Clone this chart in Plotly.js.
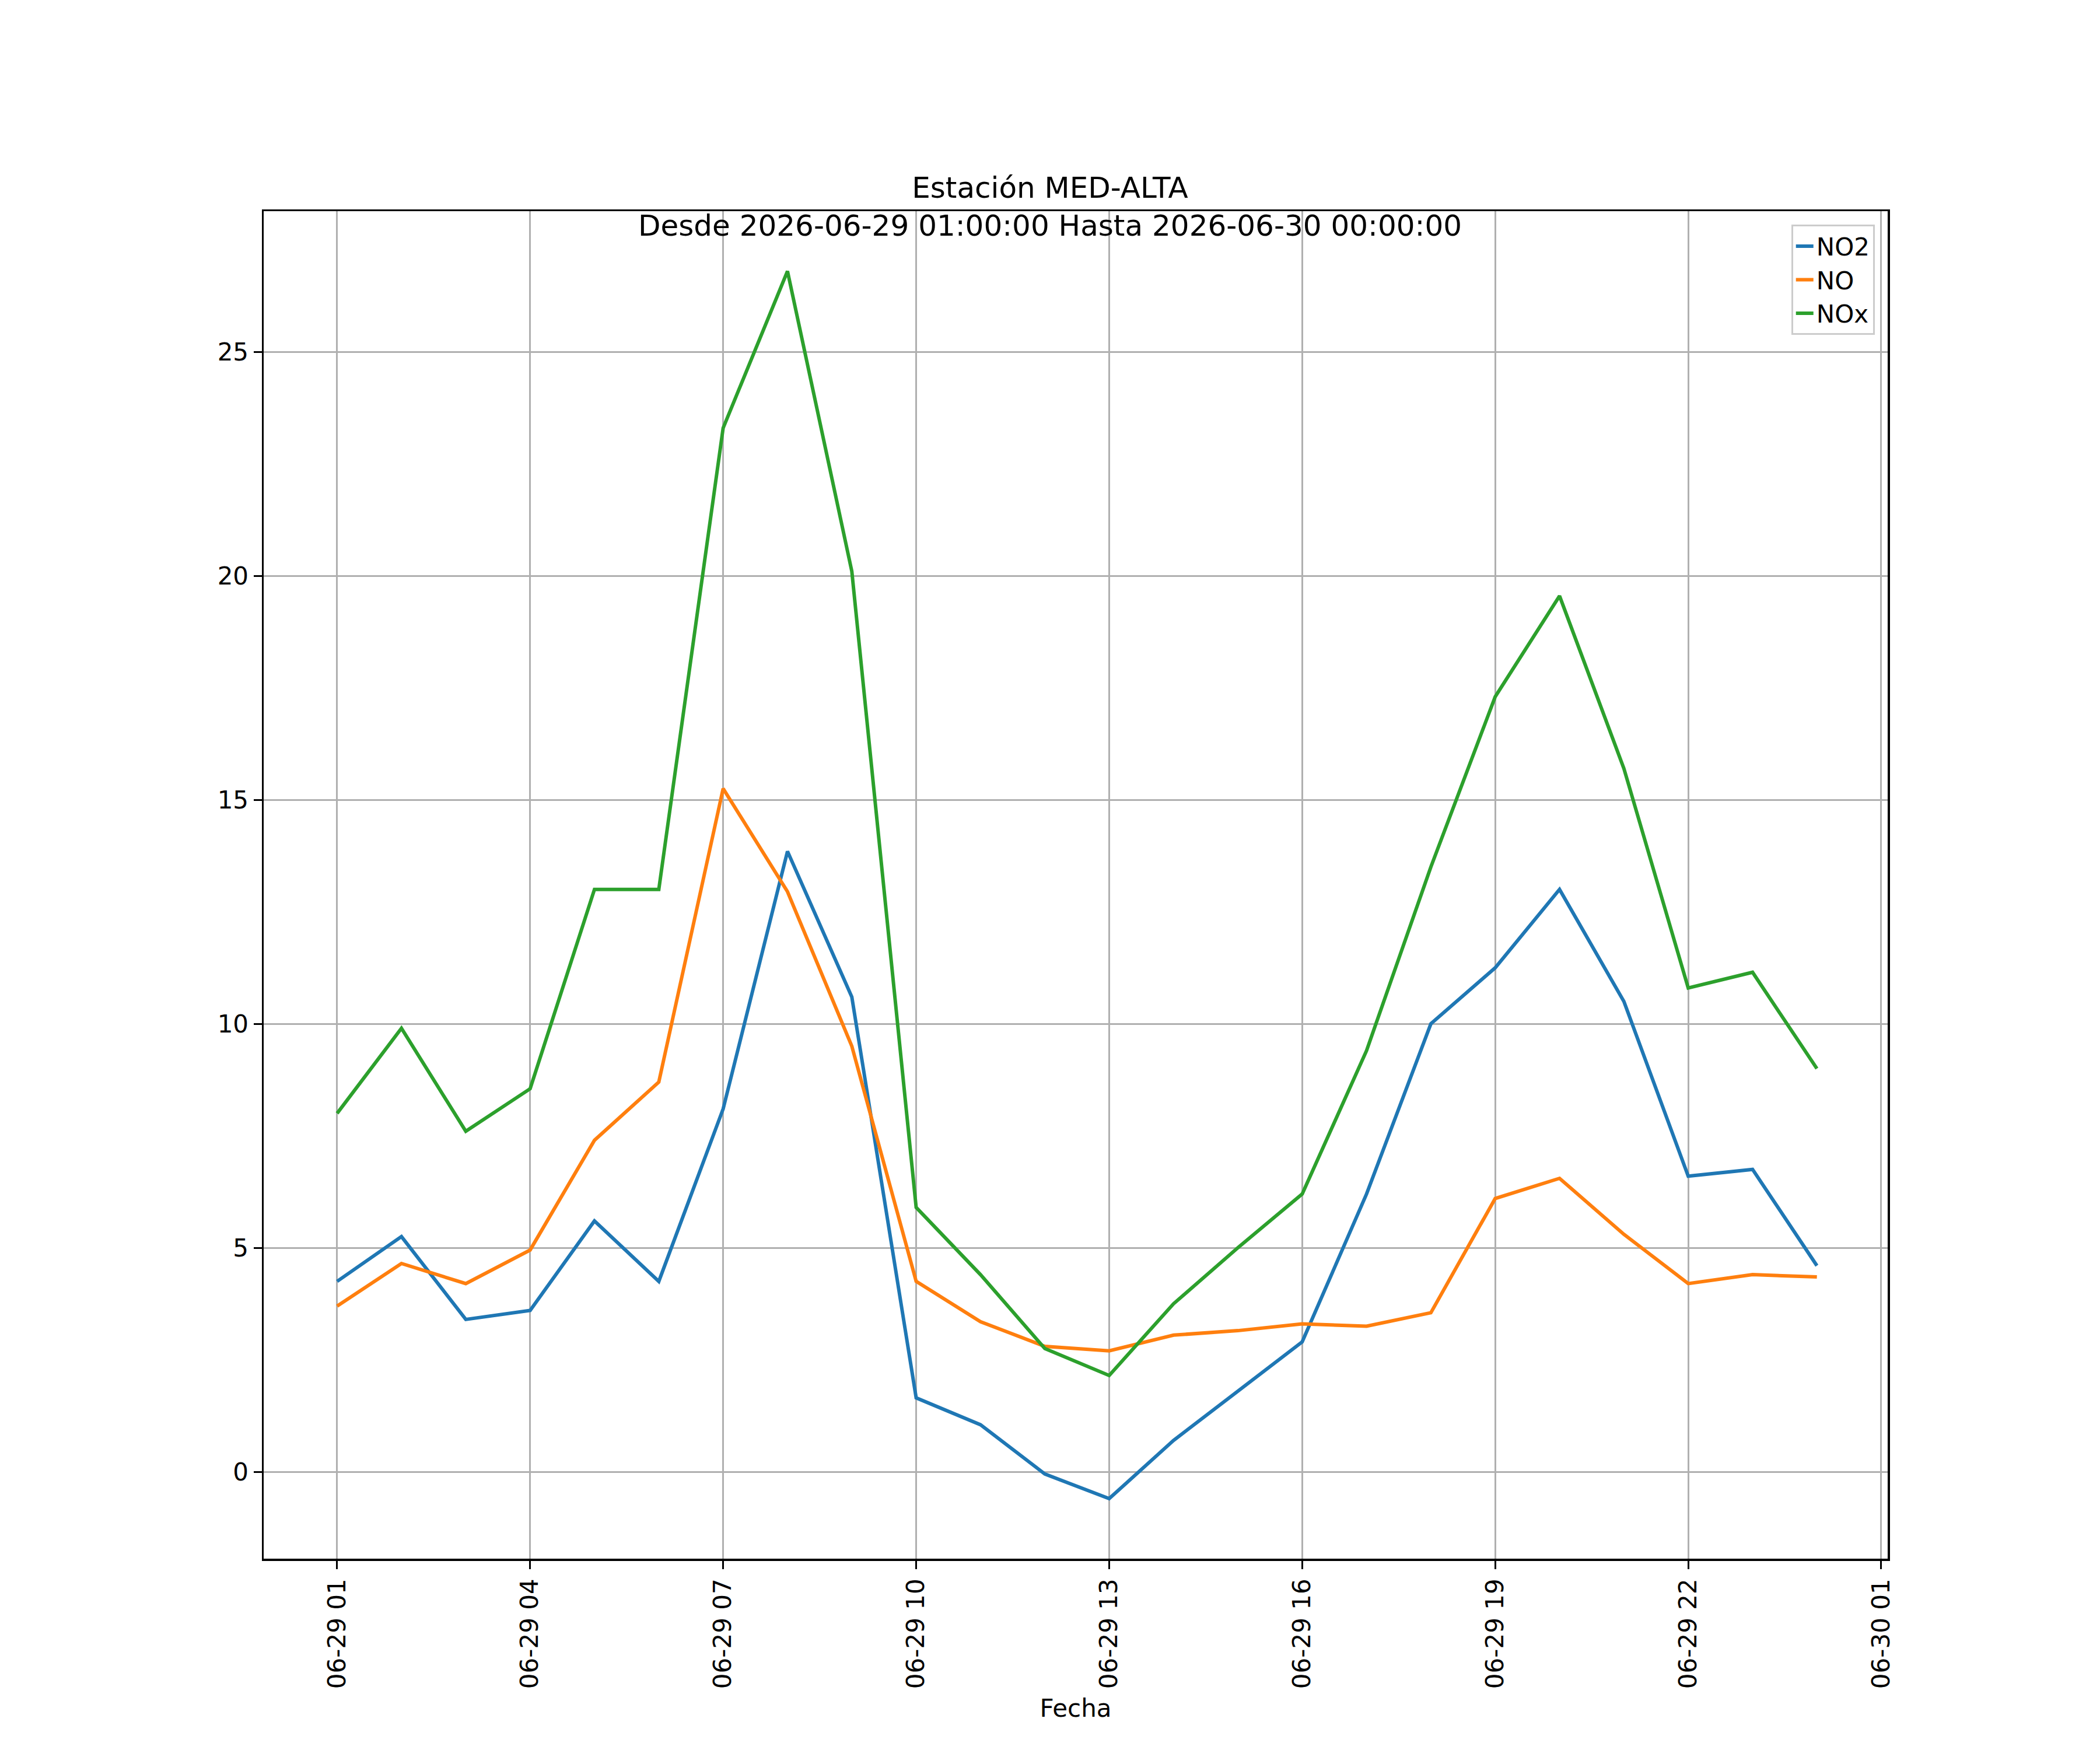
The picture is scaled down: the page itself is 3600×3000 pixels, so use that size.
<!DOCTYPE html>
<html>
<head>
<meta charset="utf-8">
<script src="https://cdn.plot.ly/plotly-3.0.1.min.js"></script>
<style>body{margin:0;background:#fff}</style>
</head>
<body>
<div id="plotlyChart" style="width:3600px;height:3000px"></div>
<script>
let hours = [
  '2026-06-29 01:00', '2026-06-29 02:00', '2026-06-29 03:00', '2026-06-29 04:00',
  '2026-06-29 05:00', '2026-06-29 06:00', '2026-06-29 07:00', '2026-06-29 08:00',
  '2026-06-29 09:00', '2026-06-29 10:00', '2026-06-29 11:00', '2026-06-29 12:00',
  '2026-06-29 13:00', '2026-06-29 14:00', '2026-06-29 15:00', '2026-06-29 16:00',
  '2026-06-29 17:00', '2026-06-29 18:00', '2026-06-29 19:00', '2026-06-29 20:00',
  '2026-06-29 21:00', '2026-06-29 22:00', '2026-06-29 23:00', '2026-06-30 00:00',
];
let no2 = [4.25, 5.25, 3.4, 3.6, 5.6, 4.25, 8.1, 13.85, 10.6, 1.65, 1.05, -0.05,
  -0.6, 0.7, 1.8, 2.9, 6.2, 10.0, 11.25, 13.0, 10.5, 6.6, 6.75, 4.6];
let no = [3.7, 4.65, 4.2, 4.95, 7.4, 8.7, 15.25, 12.95, 9.5, 4.25, 3.35, 2.8,
  2.7, 3.05, 3.15, 3.3, 3.25, 3.55, 6.1, 6.55, 5.3, 4.2, 4.4, 4.35];
let nox = [8.0, 9.9, 7.6, 8.55, 13.0, 13.0, 23.3, 26.8, 20.1, 5.9, 4.4, 2.75,
  2.15, 3.75, 5.0, 6.2, 9.4, 13.5, 17.3, 19.55, 15.7, 10.8, 11.15, 9.0];
let tick_vals = ['2026-06-29 01:00', '2026-06-29 04:00', '2026-06-29 07:00', '2026-06-29 10:00',
  '2026-06-29 13:00', '2026-06-29 16:00', '2026-06-29 19:00', '2026-06-29 22:00', '2026-06-30 01:00'];
let tick_text = ['06-29 01', '06-29 04', '06-29 07', '06-29 10', '06-29 13',
  '06-29 16', '06-29 19', '06-29 22', '06-30 01'];

let line_colors = ['#1f77b4', '#ff7f0e', '#2ca02c'];
let series = [['NO2', no2], ['NO', no], ['NOx', nox]];
let data = series.map((s, i) => ({
  x: hours,
  y: s[1],
  type: 'scatter',
  mode: 'lines',
  name: s[0],
  line: { color: line_colors[i], width: 6 },
}));

let axis = {
  showline: true,
  mirror: true,
  linecolor: '#000',
  linewidth: 3.5,
  showgrid: true,
  gridcolor: '#b0b0b0',
  gridwidth: 3,
  ticks: 'outside',
  ticklen: 14,
  tickwidth: 3,
  tickcolor: '#000',
  zeroline: false,
  tickfont: { size: 42, color: '#000' },
};

Plotly.newPlot('plotlyChart', data, {
  width: 3600,
  height: 3000,
  paper_bgcolor: '#fff',
  plot_bgcolor: '#fff',
  font: { family: 'DejaVu Sans', color: '#000' },
  margin: { l: 452, r: 364, t: 362, b: 328 },
  title: {
    text: 'Estación MED-ALTA<br>Desde 2026-06-29 01:00:00 Hasta 2026-06-30 00:00:00',
    font: { size: 50 },
    x: 0.5,
    xanchor: 'center',
    y: 0.887,
    yanchor: 'bottom',
  },
  xaxis: {
    ...axis,
    type: 'date',
    range: ['2026-06-28 23:51:30', '2026-06-30 01:06:00'],
    tickmode: 'array',
    tickvals: tick_vals,
    ticktext: tick_text,
    tickangle: -90,
    title: { text: 'Fecha', font: { size: 42 }, standoff: 20 },
  },
  yaxis: {
    ...axis,
    range: [-1.94, 28.14],
    tickmode: 'array',
    tickvals: [0, 5, 10, 15, 20, 25],
  },
  showlegend: true,
  legend: {
    x: 0.992,
    y: 0.99,
    xanchor: 'right',
    yanchor: 'top',
    bgcolor: 'rgba(255,255,255,0.8)',
    bordercolor: '#cccccc',
    borderwidth: 3,
    font: { size: 42 },
  },
}, { staticPlot: true });
</script>
</body>
</html>
